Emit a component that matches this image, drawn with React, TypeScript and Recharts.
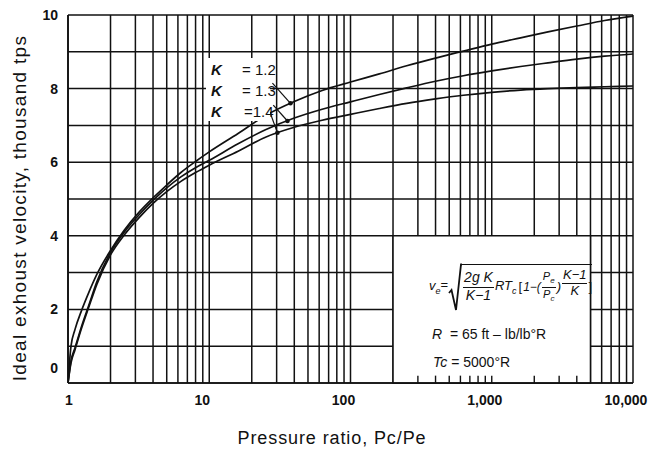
import React from 'react';
import { LineChart, Line, XAxis, YAxis, CartesianGrid, ReferenceArea, ReferenceLine, ReferenceDot } from 'recharts';

// values (velocity in thousand ft/s)
const pressureRatio = [1, 1.05, 1.12, 1.25, 1.4, 1.6, 2, 2.5, 3.2, 4, 5, 6.3, 8, 10, 16, 25, 40, 63, 100, 160, 250, 400, 630, 1000, 1600, 2500, 4000, 6300, 10000];
const velocityK12 = [0, 1.0, 1.45, 1.98, 2.45, 2.95, 3.6, 4.15, 4.65, 5.03, 5.38, 5.72, 6.02, 6.28, 6.78, 7.27, 7.65, 7.95, 8.18, 8.4, 8.62, 8.83, 9.02, 9.21, 9.38, 9.54, 9.7, 9.85, 9.97];
const velocityK13 = [0, 0.6, 0.95, 1.55, 2.1, 2.75, 3.55, 4.1, 4.58, 4.96, 5.3, 5.6, 5.85, 6.05, 6.5, 6.88, 7.2, 7.44, 7.64, 7.84, 8.02, 8.2, 8.35, 8.48, 8.6, 8.7, 8.8, 8.88, 8.94];
const velocityK14 = [0, 0.55, 0.9, 1.5, 2.05, 2.68, 3.48, 4.02, 4.5, 4.88, 5.2, 5.48, 5.72, 5.92, 6.3, 6.68, 6.95, 7.14, 7.3, 7.46, 7.6, 7.72, 7.82, 7.9, 7.96, 8.0, 8.03, 8.05, 8.07];

const decadeValues = [1, 10, 100, 1000, 10000];
const decadeLabels = ['1', '10', '100', '1,000', '10,000'];
const multipliers = [1, 2, 3, 4, 5, 6, 7, 8, 9];
const yTicks = [0, 1, 2, 3, 4, 5, 6, 7, 8, 9, 10];
const yTickLabels = ['0', '', '2', '', '4', '', '6', '', '8', '', '10'];
const boxStubs = [300, 400, 500, 600, 700, 800, 900, 1000, 2000, 3000, 4000];

const kLabels = ['1.2', '1.3', '1.4'];
// arrows from the K labels to their curves: [x1, y1, x2, y2]
const kArrows = [
  [28, 8.15, 37.6, 7.6],
  [28.4, 7.55, 35.8, 7.12],
  [27, 7.34, 30.4, 6.8],
];

const data = pressureRatio.map((p, i) => ({
  p,
  k12: velocityK12[i],
  k13: velocityK13[i],
  k14: velocityK14[i],
}));

const gridX = decadeValues.slice(0, 4).flatMap(d => multipliers.map(m => m * d)).concat(10000);

const FONT = '"Liberation Sans", Arial, sans-serif';
const INK = '#111';

const XTick = (props: any) => {
  const { x, y, payload } = props;
  const idx = decadeValues.indexOf(payload.value);
  if (idx < 0) return null;
  return (
    <text x={x + (idx === 0 ? 1 : -7)} y={y + 14} textAnchor="middle" fontFamily={FONT} fontSize={14} fontWeight="bold" fill={INK}>
      {decadeLabels[idx]}
    </text>
  );
};

const YTick = (props: any) => {
  const { x, y, payload } = props;
  const label = yTickLabels[yTicks.indexOf(payload.value)];
  if (!label) return null;
  return (
    <text x={x - 2} y={y + 5 - (payload.value === 0 ? 15 : 0)} textAnchor="end" fontFamily={FONT} fontSize={14} fontWeight="bold" fill={INK}>
      {label}
    </text>
  );
};

const Frac = ({ num, den, size }: { num: React.ReactNode; den: React.ReactNode; size?: number }) => (
  <span style={{ display: 'inline-flex', flexDirection: 'column', alignItems: 'center', fontSize: size, lineHeight: 1.1, margin: '0 1px' }}>
    <span style={{ borderBottom: `1.4px solid ${INK}`, padding: '0 1px 1px' }}>{num}</span>
    <span>{den}</span>
  </span>
);

export default function App() {
  return (
    <div style={{ position: 'absolute', left: 0, top: 0, width: 661, height: 453, background: '#fff' }}>
      <LineChart width={661} height={453} data={data} margin={{ top: 15, right: 28, bottom: 40, left: 28 }}>
        <CartesianGrid stroke={INK} strokeWidth={1.5} />
        <XAxis
          dataKey="p"
          type="number"
          scale="log"
          domain={[1, 10000]}
          ticks={gridX}
          interval={0}
          tick={<XTick />}
          tickLine={false}
          axisLine={{ stroke: INK, strokeWidth: 1.7 }}
          height={30}
          allowDataOverflow
        />
        <YAxis
          type="number"
          domain={[0, 10]}
          ticks={yTicks}
          interval={0}
          tick={<YTick />}
          tickLine={false}
          axisLine={{ stroke: INK, strokeWidth: 1.7 }}
          width={40}
        />
        <ReferenceArea x1={200} x2={5000} y1={0} y2={4} fill="#fff" fillOpacity={1} stroke={INK} strokeWidth={1.5} />
        {boxStubs.map(v => (
          <ReferenceLine key={v} segment={[{ x: v, y: 0 }, { x: v, y: 0.2 }]} stroke={INK} strokeWidth={1.4} />
        ))}
        <Line type="monotone" dataKey="k12" stroke={INK} strokeWidth={1.7} dot={false} isAnimationActive={false} />
        <Line type="monotone" dataKey="k13" stroke={INK} strokeWidth={1.7} dot={false} isAnimationActive={false} />
        <Line type="monotone" dataKey="k14" stroke={INK} strokeWidth={1.7} dot={false} isAnimationActive={false} />
        {kArrows.map((a, i) => (
          <ReferenceLine key={'a' + i} segment={[{ x: a[0], y: a[1] }, { x: a[2], y: a[3] }]} stroke={INK} strokeWidth={1.2} />
        ))}
        {kArrows.map((a, i) => (
          <ReferenceDot key={'d' + i} x={a[2]} y={a[3]} r={2.3} fill={INK} stroke="none" />
        ))}
      </LineChart>

      {/* K labels box */}
      <div style={{ position: 'absolute', left: 206, top: 58, width: 64, height: 63, background: '#fff', fontFamily: FONT, fontSize: 15, color: INK }}>
        {kLabels.map((k, i) => (
          <div key={k} style={{ position: 'absolute', left: 5, top: 3 + i * 21, whiteSpace: 'nowrap' }}>
            <span style={{ fontStyle: 'italic', fontWeight: 'bold' }}>K</span>
            <span style={{ position: 'absolute', left: 31 + (i === 2 ? 2 : 0) }}>{i === 2 ? '=1.4' : '= ' + k}</span>
          </div>
        ))}
      </div>

      {/* formula box text */}
      <div style={{ position: 'absolute', left: 429, top: 263, height: 50, display: 'flex', alignItems: 'flex-start', fontFamily: FONT, fontStyle: 'italic', fontSize: 13, color: INK, whiteSpace: 'nowrap' }}>
        <span style={{ marginTop: 15, fontSize: 13 }}>v<sub style={{ fontSize: 9 }}>e</sub></span>
        <span style={{ marginTop: 14, fontStyle: 'normal', fontSize: 13 }}>=</span>
        <svg width={14} height={50} style={{ display: 'block' }}>
          <path d="M1,30 L3.5,27 L8,47 L13,1.5 L14,1.5" fill="none" stroke={INK} strokeWidth={1.8} />
        </svg>
        <span style={{ borderTop: `1.5px solid ${INK}`, marginTop: 0.8, height: 44, display: 'inline-flex', alignItems: 'center' }}>
          <Frac num="2g K" den="K−1" size={14} />
          <span>RT<sub style={{ fontSize: 9 }}>c</sub></span>
          <span style={{ fontStyle: 'normal', margin: '0 1px 0 2px' }}>[</span>
          <span style={{ fontSize: 12 }}>1−(</span>
          <Frac num={<>P<sub style={{ fontSize: 8 }}>e</sub></>} den={<>P<sub style={{ fontSize: 8 }}>c</sub></>} size={11} />
          <span>)</span>
          <span style={{ alignSelf: 'flex-start', marginTop: 2 }}><Frac num="K−1" den="K" size={13} /></span>
          <span style={{ fontStyle: 'normal' }}>]</span>
        </span>
      </div>
      <div style={{ position: 'absolute', left: 432, top: 326, fontFamily: FONT, fontSize: 14, color: INK, whiteSpace: 'nowrap' }}>
        <span style={{ fontStyle: 'italic' }}>R</span>&nbsp;&nbsp;= 65 ft – lb/lb°R
      </div>
      <div style={{ position: 'absolute', left: 433, top: 354, fontFamily: FONT, fontSize: 14, color: INK, whiteSpace: 'nowrap' }}>
        <span style={{ fontStyle: 'italic' }}>Tc</span> = 5000°R
      </div>

      {/* axis titles */}
      <div style={{ position: 'absolute', left: 20, top: 208, transform: 'translate(-50%, -50%) rotate(-90deg)', fontFamily: FONT, fontSize: 19, letterSpacing: 1.3, color: INK, whiteSpace: 'nowrap' }}>
        Ideal exhoust velocity, thousand tps
      </div>
      <div style={{ position: 'absolute', left: 332, top: 438, transform: 'translate(-50%, -50%)', fontFamily: FONT, fontSize: 18, letterSpacing: 0.9, color: INK, whiteSpace: 'nowrap' }}>
        Pressure ratio, Pc/Pe
      </div>
    </div>
  );
}
